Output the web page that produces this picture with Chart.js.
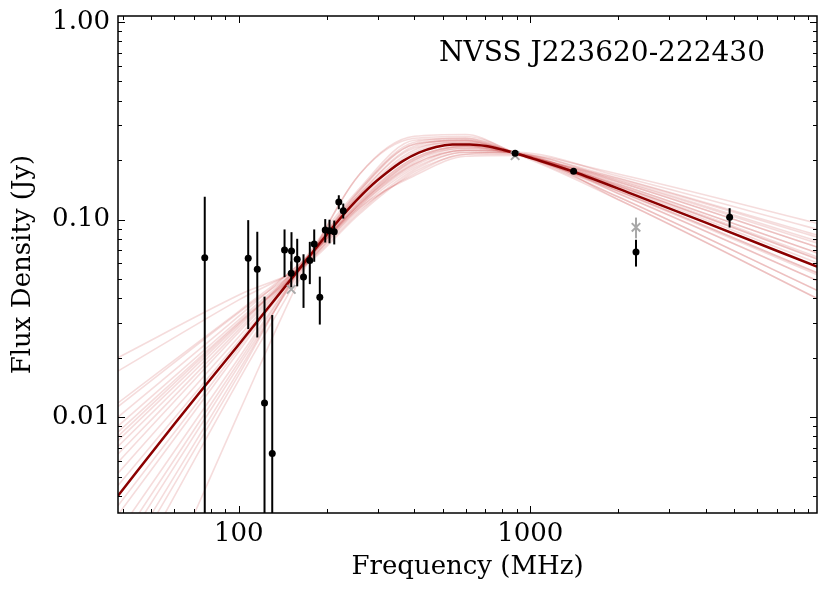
<!DOCTYPE html>
<html>
<head>
<meta charset="utf-8">
<script src="https://cdn.jsdelivr.net/npm/chart.js@4.4.0/dist/chart.umd.min.js"></script>
<style>
  html, body { margin: 0; padding: 0; background: #fff; }
</style>
</head>
<body>
<canvas id="sed" width="830" height="595"></canvas>
<script>
// measured flux densities (MHz, Jy)
const FREQ = [76.4, 107.7, 115.7, 122.5, 130.2, 143.5, 151.6, 151.3, 158.6, 166.7, 175.2,
  181.4, 189.6, 197.9, 204.7, 212.5, 220.3, 228.2, 887, 1408, 2305, 4829];
const FLUX = [0.0641, 0.0636, 0.0560, 0.0118, 0.00655, 0.0701, 0.0693, 0.0534, 0.0629, 0.0512, 0.0621,
  0.0751, 0.0404, 0.0885, 0.0878, 0.0868, 0.1227, 0.1108, 0.2164, 0.1754, 0.0684, 0.1026];
const FLUX_ERR = [0.0664, 0.0357, 0.0307, 0.0289, 0.0263, 0.019, 0.017, 0.008, 0.017, 0.0155, 0.015,
  0.014, 0.011, 0.012, 0.012, 0.012, 0.010, 0.0097, 0.003, 0.003, 0.0106, 0.0115];

// points left out of the fit (grey crosses)
const EXCL_FREQ = [151.3, 887, 2305];
const EXCL_FLUX = [0.0443, 0.2105, 0.0913];
const EXCL_ERR = [0, 0, 0.011];

// best fit curve
const FIT_FREQ = [38.5, 60, 76, 100, 150, 230, 280, 320, 365, 415, 475, 540, 620, 705, 805, 890,
  1020, 1400, 2300, 4000, 9630];
const FIT_FLUX = [0.0040, 0.0092, 0.0142, 0.0233, 0.0492, 0.1070, 0.1451, 0.1715, 0.1975, 0.2180,
  0.2330, 0.2395, 0.2398, 0.2355, 0.2255, 0.2165, 0.2035, 0.1750, 0.1325, 0.0965, 0.0577];

// posterior draws, sampled at these frequencies
const DRAW_FREQ = [38.5, 100, 170, 260, 400, 600, 890, 2000, 9630];
const DRAWS = [
  [0.0200, 0.0415, 0.0590, 0.1072, 0.1744, 0.2140, 0.2190, 0.1661, 0.0894],
  [0.0171, 0.0392, 0.0600, 0.1096, 0.1785, 0.2191, 0.2163, 0.1701, 0.0958],
  [0.0118, 0.0343, 0.0632, 0.1148, 0.1825, 0.2191, 0.2163, 0.1572, 0.0760],
  [0.0113, 0.0338, 0.0605, 0.1122, 0.1703, 0.2140, 0.2140, 0.1356, 0.0491],
  [0.0100, 0.0324, 0.0640, 0.1175, 0.1911, 0.2241, 0.2180, 0.1622, 0.0834],
  [0.0090, 0.0311, 0.0618, 0.1175, 0.1868, 0.2241, 0.2163, 0.1478, 0.0632],
  [0.0084, 0.0303, 0.0600, 0.1202, 0.1956, 0.2294, 0.2163, 0.1548, 0.0726],
  [0.0076, 0.0294, 0.0618, 0.1202, 0.1911, 0.2241, 0.2163, 0.1399, 0.0538],
  [0.0071, 0.0286, 0.0630, 0.1202, 0.2001, 0.2294, 0.2163, 0.1512, 0.0678],
  [0.0065, 0.0277, 0.0618, 0.1230, 0.2001, 0.2347, 0.2150, 0.1585, 0.0778],
  [0.0059, 0.0269, 0.0608, 0.1230, 0.2048, 0.2347, 0.2163, 0.1303, 0.0438],
  [0.0052, 0.0255, 0.0618, 0.1258, 0.2048, 0.2347, 0.2163, 0.1455, 0.0604],
  [0.0045, 0.0243, 0.0618, 0.1288, 0.2145, 0.2402, 0.2163, 0.1489, 0.0647],
  [0.0040, 0.0233, 0.0618, 0.1288, 0.2194, 0.2402, 0.2163, 0.1399, 0.0538],
  [0.0032, 0.0215, 0.0630, 0.1318, 0.2246, 0.2457, 0.2163, 0.1548, 0.0726],
  [0.0026, 0.0199, 0.0618, 0.1349, 0.2299, 0.2457, 0.2185, 0.1356, 0.0491],
  [0.0020, 0.0182, 0.0600, 0.1381, 0.2407, 0.2515, 0.2163, 0.1478, 0.0632],
  [0.0017, 0.0172, 0.0618, 0.1412, 0.2407, 0.2515, 0.2145, 0.1263, 0.0399],
  [0.0015, 0.0164, 0.0640, 0.1445, 0.2520, 0.2575, 0.2163, 0.1512, 0.0678],
  [0.0012, 0.0154, 0.0595, 0.1698, 0.2578, 0.2633, 0.2175, 0.1303, 0.0438],
  [0.00043, 0.0105, 0.0580, 0.1698, 0.2638, 0.2695, 0.2163, 0.1432, 0.0577],
  [0.00225, 0.0190, 0.0618, 0.1412, 0.2462, 0.2575, 0.2163, 0.1388, 0.0526],
  [0.0080, 0.0298, 0.0590, 0.1148, 0.1665, 0.2092, 0.2113, 0.1263, 0.0399],
  [0.00356, 0.0224, 0.0645, 0.1349, 0.2351, 0.2515, 0.2150, 0.1611, 0.0815]
];

const X_TICKS = [100, 1000];
const Y_TICKS = [0.01, 0.1, 1];
const X_MINOR = [40, 50, 60, 70, 80, 90, 200, 300, 400, 500, 600, 700, 800, 900,
  2000, 3000, 4000, 5000, 6000, 7000, 8000, 9000];
const Y_MINOR = [0.004, 0.005, 0.006, 0.007, 0.008, 0.009, 0.02, 0.03, 0.04, 0.05, 0.06, 0.07, 0.08, 0.09,
  0.2, 0.3, 0.4, 0.5, 0.6, 0.7, 0.8, 0.9];
const SOURCE = 'NVSS J223620-222430';

const FONT = 'DejaVu Serif';
const pts = (xs, ys) => xs.map((x, i) => ({ x: x, y: ys[i] }));

const datasets = [];
datasets.push({
  label: 'data', data: pts(FREQ, FLUX), errors: FLUX_ERR, barColor: '#000',
  showLine: false, pointRadius: 3.5, pointBackgroundColor: '#000', pointBorderWidth: 0, order: 0
});
datasets.push({
  label: 'excluded', data: pts(EXCL_FREQ, EXCL_FLUX), errors: EXCL_ERR, barColor: '#a8a8a8',
  showLine: false, pointStyle: 'crossRot', pointRadius: 6, pointBorderColor: '#a8a8a8',
  pointBorderWidth: 2, order: 1
});
datasets.push({
  label: 'fit', data: pts(FIT_FREQ, FIT_FLUX), showLine: true, pointRadius: 0,
  borderColor: '#8b0000', borderWidth: 2.5, cubicInterpolationMode: 'monotone', order: 2
});
DRAWS.forEach((d, i) => {
  datasets.push({
    label: 'draw' + i, data: pts(DRAW_FREQ, d), showLine: true, pointRadius: 0,
    borderColor: 'rgba(200, 60, 60, 0.18)', borderWidth: 1.6,
    cubicInterpolationMode: 'monotone', order: 3
  });
});

// vertical error bars, drawn just under each marker set
const errorBars = {
  id: 'errorBars',
  beforeDatasetDraw(chart, args) {
    const ds = chart.data.datasets[args.index];
    if (!ds.errors) return;
    const { ctx, chartArea: a, scales: { x, y } } = chart;
    ctx.save();
    ctx.beginPath();
    ctx.rect(a.left, a.top, a.right - a.left, a.bottom - a.top);
    ctx.clip();
    ctx.strokeStyle = ds.barColor;
    ctx.lineWidth = 2;
    ds.data.forEach((p, i) => {
      const e = ds.errors[i];
      if (!e) return;
      const px = x.getPixelForValue(p.x);
      const top = y.getPixelForValue(p.y + e);
      const bot = p.y - e > 0 ? y.getPixelForValue(p.y - e) : a.bottom + 5;
      ctx.beginPath();
      ctx.moveTo(px, top);
      ctx.lineTo(px, bot);
      ctx.stroke();
    });
    ctx.restore();
  }
};

// matplotlib style box with inward ticks on all four sides
const frame = {
  id: 'frame',
  afterDraw(chart) {
    const { ctx, chartArea: a, scales: { x, y } } = chart;
    ctx.save();
    ctx.strokeStyle = '#000';
    ctx.lineWidth = 1;
    const xt = (vals, len) => vals.forEach(v => {
      const px = Math.round(x.getPixelForValue(v)) + 0.5;
      ctx.beginPath();
      ctx.moveTo(px, a.bottom); ctx.lineTo(px, a.bottom - len);
      ctx.moveTo(px, a.top); ctx.lineTo(px, a.top + len);
      ctx.stroke();
    });
    const yt = (vals, len) => vals.forEach(v => {
      const py = Math.round(y.getPixelForValue(v)) + 0.5;
      ctx.beginPath();
      ctx.moveTo(a.left, py); ctx.lineTo(a.left + len, py);
      ctx.moveTo(a.right, py); ctx.lineTo(a.right - len, py);
      ctx.stroke();
    });
    xt(X_MINOR, 4); xt(X_TICKS, 7);
    yt(Y_MINOR, 4); yt(Y_TICKS, 7);
    ctx.lineWidth = 1.5;
    ctx.strokeRect(a.left, a.top, a.right - a.left, a.bottom - a.top);

    ctx.fillStyle = '#000';
    ctx.font = '28px "' + FONT + '"';
    ctx.textAlign = 'center';
    ctx.textBaseline = 'middle';
    ctx.fillText(SOURCE, 602, 54);
    ctx.restore();
  }
};

new Chart(document.getElementById('sed'), {
  type: 'scatter',
  data: { datasets: datasets },
  options: {
    responsive: false,
    animation: false,
    layout: { padding: { top: 16, right: 13, left: 0, bottom: 0 } },
    plugins: { legend: { display: false }, tooltip: { enabled: false } },
    scales: {
      x: {
        type: 'logarithmic', min: 38.5, max: 9630,
        grid: { display: false, drawTicks: false },
        border: { display: false },
        afterBuildTicks: s => { s.ticks = X_TICKS.map(v => ({ value: v })); },
        afterFit: s => { s.height = 82; s.paddingLeft = 0; s.paddingRight = 0; },
        ticks: {
          color: '#000', padding: 6, maxRotation: 0, autoSkip: false,
          font: { family: FONT, size: 26 },
          callback: v => String(v)
        },
        title: {
          display: true, text: 'Frequency (MHz)', color: '#000',
          font: { family: FONT, size: 26 }, padding: { top: 0, bottom: 12 }
        }
      },
      y: {
        type: 'logarithmic', min: 0.00327, max: 1.072,
        grid: { display: false, drawTicks: false },
        border: { display: false },
        afterBuildTicks: s => { s.ticks = Y_TICKS.map(v => ({ value: v })); },
        afterFit: s => { s.width = 118; s.paddingTop = 0; s.paddingBottom = 0; },
        ticks: {
          color: '#000', padding: 8, autoSkip: false,
          font: { family: FONT, size: 26 },
          callback: v => v.toFixed(2)
        },
        title: {
          display: true, text: 'Flux Density (Jy)', color: '#000',
          font: { family: FONT, size: 26 }, padding: { top: 8, bottom: 0 }
        }
      }
    }
  },
  plugins: [errorBars, frame]
});
</script>
</body>
</html>
